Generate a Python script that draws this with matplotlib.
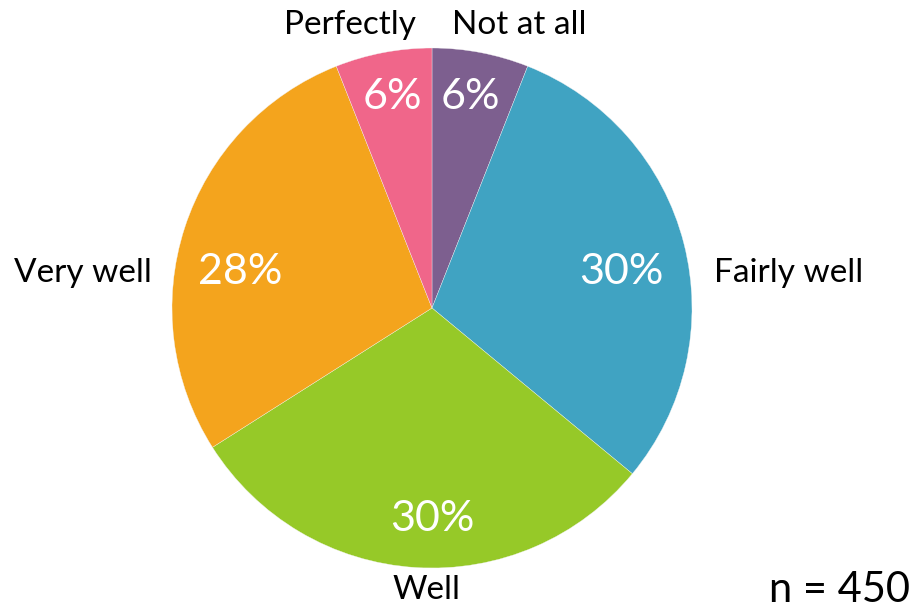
import matplotlib.pyplot as plt

plt.rcParams['font.family'] = ['Lato', 'DejaVu Sans']

# данные
categories = ['Not at all', 'Fairly well', 'Well', 'Very well', 'Perfectly']
shares = [6, 30, 30, 28, 6]
sample_size = 450

colors = ['#7D5F8F', '#40A3C2', '#96C928', '#F4A41D', '#F0668A']

# положение подписей (в долях радиуса от центра)
pct_offsets = [(0.146, 0.81), (0.73, 0.138), (0.0, -0.81), (-0.738, 0.138), (-0.154, 0.81)]
name_offsets = [(0.077, 1.088, 'left'), (1.085, 0.135, 'left'), (-0.023, -1.085, 'center'),
                (-1.077, 0.135, 'right'), (-0.062, 1.088, 'right')]

fig = plt.figure(figsize=(9.15, 6.11), dpi=100)
ax = fig.add_axes([0, 0, 1, 1])

cx, cy, r = 432, 303, 260
ax.pie(shares, colors=colors, startangle=90, counterclock=False,
       center=(cx, cy), radius=r, frame=True,
       wedgeprops=dict(edgecolor='#f4f4f4', linewidth=0.25))

for val, (dx, dy) in zip(shares, pct_offsets):
    ax.text(cx + dx * r, cy + dy * r, f'{val}%', color='white', fontsize=31,
            ha='center', va='center')

for name, (dx, dy, ha) in zip(categories, name_offsets):
    ax.text(cx + dx * r, cy + dy * r, name, color='black', fontsize=24,
            ha=ha, va='center')

ax.text(910, 611 - 590, f'n = {sample_size}', fontsize=30, ha='right', va='center')

ax.set_xlim(0, 915)
ax.set_ylim(0, 611)
ax.set_aspect('equal')
ax.axis('off')

fig.savefig('out.png', dpi=100)
